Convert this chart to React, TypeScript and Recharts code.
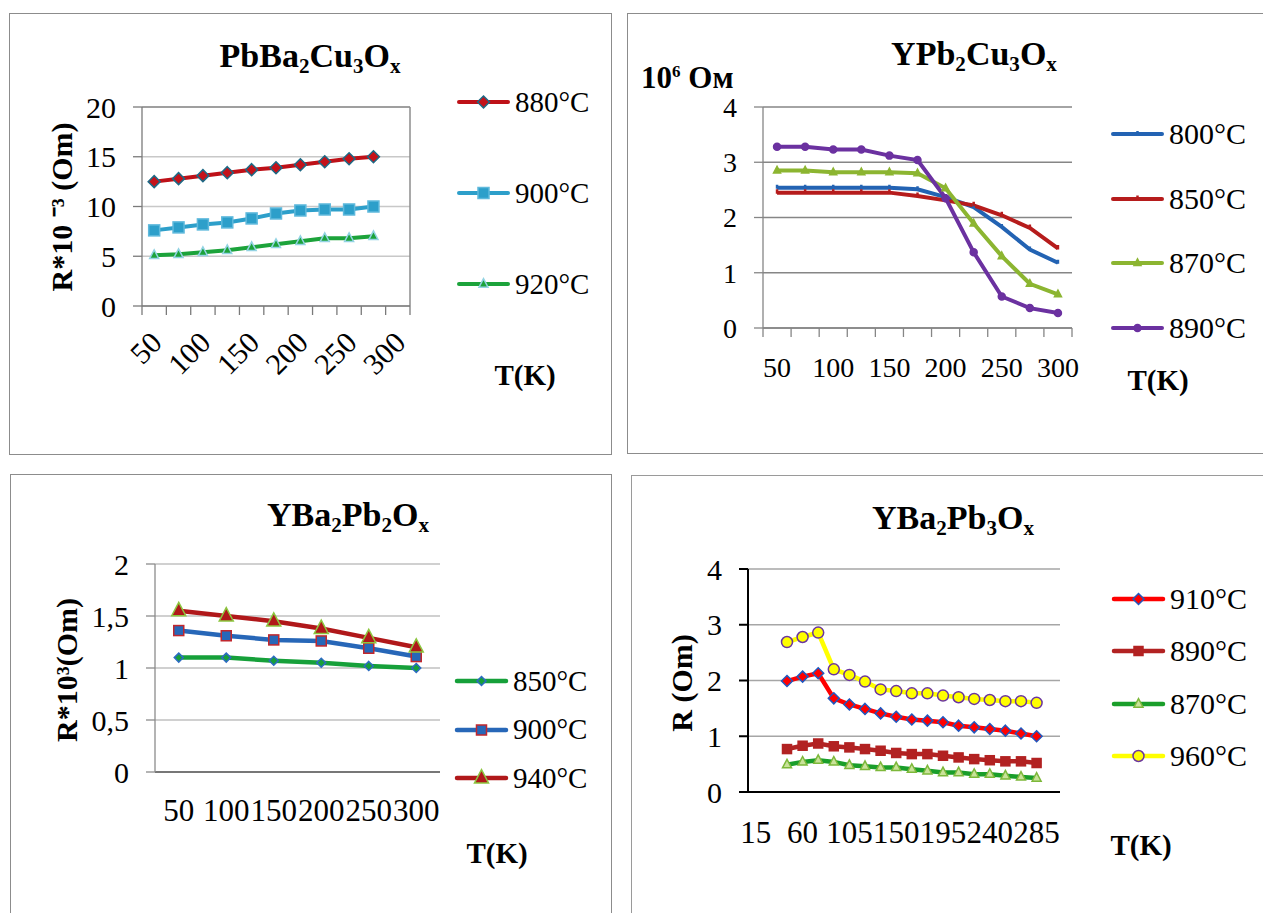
import React from 'react';
import { LineChart, Line, XAxis, YAxis, CartesianGrid, Legend, ReferenceLine } from 'recharts';

const FONT = '"Liberation Serif", "Times New Roman", serif';

// ---- PbBa2Cu3Ox ----
const axisCats1 = [50, 75, 100, 125, 150, 175, 200, 225, 250, 275, 300];
const temps1 = [50, 75, 100, 125, 150, 175, 200, 225, 250, 275];
const xLabels1 = [50, 100, 150, 200, 250, 300];
const yTicks1 = [0, 5, 10, 15, 20];
const r880 = [12.5, 12.8, 13.1, 13.4, 13.7, 13.9, 14.2, 14.5, 14.8, 15.0];
const r900 = [7.6, 7.9, 8.2, 8.4, 8.8, 9.3, 9.6, 9.7, 9.7, 10.0];
const r920 = [5.1, 5.2, 5.4, 5.6, 5.9, 6.2, 6.5, 6.8, 6.8, 7.0];

// ---- YPb2Cu3Ox ----
const axisCats2 = [50, 75, 100, 125, 150, 175, 200, 225, 250, 275, 300];
const temps2 = [50, 75, 100, 125, 150, 175, 200, 225, 250, 275, 300];
const xLabels2 = [50, 100, 150, 200, 250, 300];
const yTicks2 = [0, 1, 2, 3, 4];
const q800 = [2.54, 2.54, 2.54, 2.54, 2.54, 2.51, 2.37, 2.19, 1.83, 1.42, 1.18];
const q850 = [2.45, 2.45, 2.45, 2.45, 2.45, 2.39, 2.31, 2.22, 2.04, 1.81, 1.44];
const q870 = [2.85, 2.85, 2.82, 2.82, 2.82, 2.8, 2.53, 1.89, 1.3, 0.8, 0.61];
const q890 = [3.28, 3.28, 3.23, 3.23, 3.12, 3.04, 2.35, 1.37, 0.57, 0.36, 0.27];

// ---- YBa2Pb2Ox ----
const axisCats3 = [50, 100, 150, 200, 250, 300];
const temps3 = [50, 100, 150, 200, 250, 300];
const xLabels3 = [50, 100, 150, 200, 250, 300];
const yTicks3 = [0, 0.5, 1, 1.5, 2];
const p850 = [1.1, 1.1, 1.07, 1.05, 1.02, 1.0];
const p900 = [1.36, 1.31, 1.27, 1.26, 1.19, 1.11];
const p940 = [1.55, 1.5, 1.45, 1.38, 1.29, 1.2];

// ---- YBa2Pb3Ox ----
const axisCats4 = [15, 30, 45, 60, 75, 90, 105, 120, 135, 150, 165, 180, 195, 210, 225, 240, 255, 270, 285, 300];
const temps4 = [45, 60, 75, 90, 105, 120, 135, 150, 165, 180, 195, 210, 225, 240, 255, 270, 285];
const xLabels4 = [15, 60, 105, 150, 195, 240, 285];
const yTicks4 = [0, 1, 2, 3, 4];
const s910 = [1.99, 2.07, 2.13, 1.68, 1.57, 1.49, 1.41, 1.35, 1.3, 1.28, 1.25, 1.19, 1.16, 1.13, 1.1, 1.05, 1.0];
const s890 = [0.77, 0.83, 0.87, 0.82, 0.8, 0.77, 0.74, 0.7, 0.68, 0.68, 0.65, 0.62, 0.59, 0.57, 0.55, 0.55, 0.52];
const s870 = [0.49, 0.54, 0.57, 0.54, 0.48, 0.46, 0.44, 0.44, 0.41, 0.38, 0.35, 0.35, 0.32, 0.32, 0.29, 0.27, 0.25];
const s960 = [2.69, 2.78, 2.86, 2.2, 2.1, 1.98, 1.84, 1.81, 1.77, 1.77, 1.73, 1.7, 1.67, 1.65, 1.63, 1.63, 1.6];

type Shape = 'diamond' | 'square' | 'triangle' | 'circle' | 'tick';
interface Series {
  key: string;
  name: string;
  values: number[];
  color: string;
  shape: Shape;
  size: number;
  fill: string;
  edge: string;
}

const series1: Series[] = [
  { key: 'a', name: '880°C', values: r880, color: '#be1118', shape: 'diamond', size: 6, fill: '#c4121a', edge: '#1d6a86' },
  { key: 'b', name: '900°C', values: r900, color: '#2d9fca', shape: 'square', size: 5.5, fill: '#2d9fca', edge: '#5fb9dc' },
  { key: 'c', name: '920°C', values: r920, color: '#1ca33b', shape: 'triangle', size: 4.5, fill: '#1ca33b', edge: '#93d3e3' },
];
const series2: Series[] = [
  { key: 'a', name: '800°C', values: q800, color: '#2363b3', shape: 'tick', size: 3, fill: '#2363b3', edge: '#2363b3' },
  { key: 'b', name: '850°C', values: q850, color: '#b61c1c', shape: 'tick', size: 3.5, fill: '#b61c1c', edge: '#b61c1c' },
  { key: 'c', name: '870°C', values: q870, color: '#8cb531', shape: 'triangle', size: 3.5, fill: '#8cb531', edge: '#8cb531' },
  { key: 'd', name: '890°C', values: q890, color: '#6b31a0', shape: 'circle', size: 3.5, fill: '#6b31a0', edge: '#6b31a0' },
];
const series3: Series[] = [
  { key: 'a', name: '850°C', values: p850, color: '#16a03a', shape: 'diamond', size: 4.5, fill: '#16a03a', edge: '#2c6bc2' },
  { key: 'b', name: '900°C', values: p900, color: '#2767b8', shape: 'square', size: 5, fill: '#2767b8', edge: '#c1272d' },
  { key: 'c', name: '940°C', values: p940, color: '#b0181a', shape: 'triangle', size: 7, fill: '#b0181a', edge: '#8cc63f' },
];
const series4: Series[] = [
  { key: 'a', name: '910°C', values: s910, color: '#ff0000', shape: 'diamond', size: 5.5, fill: '#ff0000', edge: '#2058bf' },
  { key: 'b', name: '890°C', values: s890, color: '#b22222', shape: 'square', size: 4.5, fill: '#b22222', edge: '#b22222' },
  { key: 'c', name: '870°C', values: s870, color: '#1a9e2a', shape: 'triangle', size: 4.5, fill: '#c9e29a', edge: '#7db83a' },
  { key: 'd', name: '960°C', values: s960, color: '#ffff00', shape: 'circle', size: 5.5, fill: '#ffff00', edge: '#6a35a0' },
];

function Marker({ cx, cy, s }: { cx: number; cy: number; s: Series }) {
  const r = s.size;
  const st = { fill: s.fill, stroke: s.edge, strokeWidth: 1.5 };
  switch (s.shape) {
    case 'diamond':
      return <polygon points={`${cx},${cy - r} ${cx + r},${cy} ${cx},${cy + r} ${cx - r},${cy}`} {...st} />;
    case 'square':
      return <rect x={cx - r} y={cy - r} width={2 * r} height={2 * r} {...st} />;
    case 'triangle':
      return <polygon points={`${cx},${cy - r * 1.2} ${cx + r},${cy + r * 0.7} ${cx - r},${cy + r * 0.7}`} {...st} />;
    case 'circle':
      return <circle cx={cx} cy={cy} r={r} {...st} />;
    default:
      return <line x1={cx} x2={cx} y1={cy - r} y2={cy + 1} stroke={s.edge} strokeWidth={2.5} />;
  }
}

const LegendBlock = ({ series, gap, fontSize, lw }: { series: Series[]; gap: number; fontSize: number; lw: number }) => (
  <div>
    {series.map((s) => (
      <div key={s.key} style={{ height: gap, display: 'flex', alignItems: 'center' }}>
        <svg width={53} height={20} style={{ overflow: 'visible' }}>
          <line x1={2} x2={51} y1={10} y2={10} stroke={s.color} strokeWidth={lw} strokeLinecap="round" />
          <Marker cx={26.5} cy={10} s={s} />
        </svg>
        <span style={{ marginLeft: 5, fontFamily: FONT, fontSize, lineHeight: 1, color: '#000' }}>{s.name}</span>
      </div>
    ))}
  </div>
);

interface PanelProps {
  box: { left: number; top: number; width: number; height: number };
  plot: { x0: number; x1: number; y0: number; y1: number };
  axisCats: number[];
  temps: number[];
  xLabels: number[];
  series: Series[];
  yDomain: [number, number];
  yTicks: number[];
  yFormat?: (v: number) => string;
  tickFont: number;
  xFont: number;
  xOffset: number;
  rotate?: boolean;
  boundaryTicks?: boolean;
  axisColor: string;
  xAxisColor: string;
  axisWidth: number;
  gridColor: string;
  frame?: string;
  legend: { x: number; y: number; gap: number; fontSize: number };
  lineWidth: number;
  borderColor: string;
}

function Panel(p: PanelProps) {
  const { box, plot, axisCats, temps, series } = p;
  const step = axisCats[1] - axisCats[0];
  const lo = axisCats[0] - step / 2;
  const hi = axisCats[axisCats.length - 1] + step / 2;
  const bounds = [lo, ...axisCats.map((c) => c + step / 2)];
  const xTicks = p.boundaryTicks ? [...bounds, ...p.xLabels].sort((a, b) => a - b) : p.xLabels;

  const rows = temps.map((t, i) => {
    const r: any = { t };
    series.forEach((s) => {
      r[s.key] = s.values[i];
    });
    return r;
  });

  const xTick = (tp: any) => {
    const v = tp.payload.value;
    const x = tp.x;
    const y = tp.y;
    if (p.xLabels.includes(v)) {
      const ty = y + p.xOffset;
      if (p.rotate) {
        return (
          <text x={x + 2} y={ty} dy="0.35em" textAnchor="end" transform={`rotate(-45 ${x + 2} ${ty})`} fontFamily={FONT} fontSize={p.xFont} fill="#000">
            {v}
          </text>
        );
      }
      return (
        <text x={x} y={ty} dy="0.35em" textAnchor="middle" fontFamily={FONT} fontSize={p.xFont} fill="#000">
          {v}
        </text>
      );
    }
    return <line x1={x} x2={x} y1={y} y2={y + 9} stroke={p.xAxisColor} strokeWidth={1.3} />;
  };

  const renderDot = (s: Series) => (d: any) => {
    if (d.cx == null || d.cy == null || d.value == null) return <g key={`${s.key}-${d.index}`} />;
    return (
      <g key={`${s.key}-${d.index}`}>
        <Marker cx={d.cx} cy={d.cy} s={s} />
      </g>
    );
  };

  return (
    <div style={{ position: 'absolute', left: box.left, top: box.top, width: box.width, height: box.height }}>
      <div style={{ position: 'absolute', inset: 0, border: `1.3px solid ${p.borderColor}`, boxSizing: 'border-box' }} />
      <LineChart
        width={box.width}
        height={box.height}
        data={rows}
        margin={{
          top: plot.y0 - box.top,
          right: box.left + box.width - plot.x1,
          bottom: box.top + box.height - plot.y1 - 60,
          left: 0,
        }}
      >
        <CartesianGrid vertical={false} stroke={p.gridColor} strokeWidth={1.3} />
        <XAxis
          dataKey="t"
          type="number"
          domain={[lo, hi]}
          ticks={xTicks}
          interval={0}
          tickLine={false}
          tickSize={0}
          tickMargin={0}
          height={60}
          allowDataOverflow
          axisLine={{ stroke: p.xAxisColor, strokeWidth: p.axisWidth }}
          tick={xTick}
        />
        <YAxis
          type="number"
          domain={p.yDomain}
          ticks={p.yTicks}
          interval={0}
          width={plot.x0 - box.left}
          tickSize={9}
          tickMargin={17}
          axisLine={{ stroke: p.axisColor, strokeWidth: p.axisWidth }}
          tickLine={{ stroke: p.axisColor, strokeWidth: p.axisWidth }}
          tick={{ fill: '#000', fontSize: p.tickFont, fontFamily: FONT }}
          tickFormatter={p.yFormat}
        />
        {p.frame && <ReferenceLine x={hi} stroke={p.frame} strokeWidth={1.5} />}
        {p.frame && <ReferenceLine y={p.yDomain[1]} stroke={p.frame} strokeWidth={1.5} />}
        <Legend
          layout="vertical"
          align="center"
          verticalAlign="middle"
          wrapperStyle={{
            left: p.legend.x - box.left,
            top: p.legend.y - p.legend.gap / 2 - box.top,
            width: 160,
            margin: 0,
          }}
          content={() => <LegendBlock series={series} gap={p.legend.gap} fontSize={p.legend.fontSize} lw={p.lineWidth} />}
        />
        {series.map((s) => (
          <Line
            key={s.key}
            type="linear"
            dataKey={s.key}
            name={s.name}
            stroke={s.color}
            strokeWidth={p.lineWidth}
            dot={renderDot(s)}
            activeDot={false}
            isAnimationActive={false}
          />
        ))}
      </LineChart>
    </div>
  );
}

const Txt = ({ x, y, size, children, rotate = false, left = false }: any) => (
  <div
    style={{
      position: 'absolute',
      left: x,
      top: y,
      transform: `translate(${left ? '0' : '-50%'}, -50%)${rotate ? ' rotate(-90deg)' : ''}`,
      fontFamily: FONT,
      fontWeight: 'bold',
      fontSize: size,
      lineHeight: 1,
      whiteSpace: 'nowrap',
      color: '#000',
    }}
  >
    {children}
  </div>
);

const subStyle = { fontSize: '0.62em', verticalAlign: '-0.28em' };

export default function App() {
  return (
    <div style={{ position: 'absolute', left: 0, top: 0, width: 1263, height: 913, background: '#fff', overflow: 'hidden' }}>
      <Panel
        box={{ left: 9, top: 13, width: 603, height: 442 }}
        plot={{ x0: 142, x1: 410, y0: 107, y1: 306 }}
        axisCats={axisCats1}
        temps={temps1}
        xLabels={xLabels1}
        series={series1}
        yDomain={[0, 20]}
        yTicks={yTicks1}
        tickFont={30}
        xFont={30}
        xOffset={31}
        rotate
        boundaryTicks
        axisColor="#7a7a7a"
        xAxisColor="#7a7a7a"
        axisWidth={1.3}
        gridColor="#c8c8c8"
        frame="#8c8c8c"
        legend={{ x: 457, y: 102, gap: 91, fontSize: 29 }}
        lineWidth={4}
        borderColor="#8c8c8c"
      />
      <Panel
        box={{ left: 627, top: 13, width: 640, height: 441 }}
        plot={{ x0: 763, x1: 1072, y0: 107, y1: 328 }}
        axisCats={axisCats2}
        temps={temps2}
        xLabels={xLabels2}
        series={series2}
        yDomain={[0, 4]}
        yTicks={yTicks2}
        tickFont={28}
        xFont={28}
        xOffset={39}
        boundaryTicks
        axisColor="#868686"
        xAxisColor="#868686"
        axisWidth={1.3}
        gridColor="#868686"
        legend={{ x: 1111, y: 134, gap: 64.7, fontSize: 30 }}
        lineWidth={4}
        borderColor="#8c8c8c"
      />
      <Panel
        box={{ left: 10, top: 474, width: 602, height: 445 }}
        plot={{ x0: 155, x1: 440, y0: 564, y1: 772 }}
        axisCats={axisCats3}
        temps={temps3}
        xLabels={xLabels3}
        series={series3}
        yDomain={[0, 2]}
        yTicks={yTicks3}
        yFormat={(v: number) => String(v).replace('.', ',')}
        tickFont={30}
        xFont={31}
        xOffset={38}
        axisColor="#8c8c8c"
        xAxisColor="#5a5a5a"
        axisWidth={1.3}
        gridColor="#c0c0c0"
        legend={{ x: 455, y: 681, gap: 48.5, fontSize: 29 }}
        lineWidth={4.5}
        borderColor="#8c8c8c"
      />
      <Panel
        box={{ left: 631, top: 475, width: 640, height: 445 }}
        plot={{ x0: 748, x1: 1060, y0: 569, y1: 792 }}
        axisCats={axisCats4}
        temps={temps4}
        xLabels={xLabels4}
        series={series4}
        yDomain={[0, 4]}
        yTicks={yTicks4}
        tickFont={30}
        xFont={31}
        xOffset={40}
        axisColor="#000"
        xAxisColor="#000"
        axisWidth={2}
        gridColor="#a6a6a6"
        legend={{ x: 1112, y: 599, gap: 52.3, fontSize: 30 }}
        lineWidth={4.5}
        borderColor="#9a9a9a"
      />

      <Txt x={310} y={58} size={34}>
        PbBa<sub style={subStyle}>2</sub>Cu<sub style={subStyle}>3</sub>O<sub style={subStyle}>x</sub>
      </Txt>
      <Txt x={62} y={207} size={30} rotate>
        R*10 ⁻³ (Om)
      </Txt>
      <Txt x={525} y={375} size={29}>T(K)</Txt>

      <Txt x={974} y={56} size={34}>
        YPb<sub style={subStyle}>2</sub>Cu<sub style={subStyle}>3</sub>O<sub style={subStyle}>x</sub>
      </Txt>
      <Txt x={641} y={77} size={31} left>
        10<sup style={{ fontSize: '0.55em', verticalAlign: '0.6em' }}>6</sup> Ом
      </Txt>
      <Txt x={1158} y={380} size={29}>T(K)</Txt>

      <Txt x={348} y={517} size={34}>
        YBa<sub style={subStyle}>2</sub>Pb<sub style={subStyle}>2</sub>O<sub style={subStyle}>x</sub>
      </Txt>
      <Txt x={67} y={670} size={30} rotate>
        R*10³(Om)
      </Txt>
      <Txt x={497} y={853} size={29}>T(K)</Txt>

      <Txt x={953} y={520} size={34}>
        YBa<sub style={subStyle}>2</sub>Pb<sub style={subStyle}>3</sub>O<sub style={subStyle}>x</sub>
      </Txt>
      <Txt x={682} y={683} size={30} rotate>
        R (Om)
      </Txt>
      <Txt x={1141} y={845} size={29}>T(K)</Txt>
    </div>
  );
}
